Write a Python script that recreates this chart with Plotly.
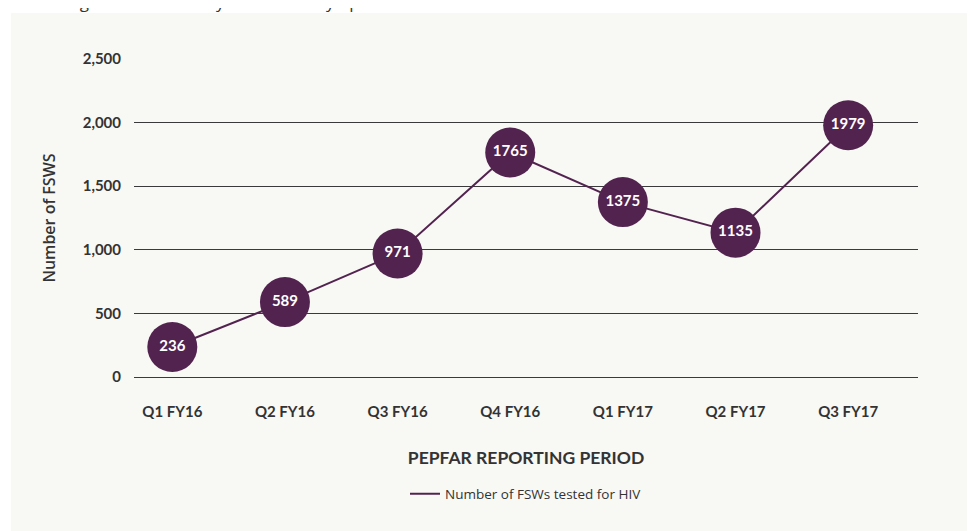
import plotly.graph_objects as go

periods = ["Q1 FY16", "Q2 FY16", "Q3 FY16", "Q4 FY16", "Q1 FY17", "Q2 FY17", "Q3 FY17"]
tested = [236, 589, 971, 1765, 1375, 1135, 1979]
y_ticks = [0, 500, 1000, 1500, 2000, 2500]
y_tick_labels = ["0", "500", "1,000", "1,500", "2,000", "2,500"]

purple = "#532350"
ink = "#333333"

fig = go.Figure()
fig.add_trace(
    go.Scatter(
        x=periods,
        y=tested,
        mode="lines",
        line=dict(color=purple, width=2),
        name="Number of FSWs tested for HIV",
        cliponaxis=False,
    )
)
fig.add_trace(
    go.Scatter(
        x=periods,
        y=tested,
        mode="markers+text",
        marker=dict(size=50, color=purple),
        text=[str(v) for v in tested],
        textposition="middle center",
        textfont=dict(color="white", size=15, family="Lato", weight="bold"),
        showlegend=False,
        cliponaxis=False,
        hoverinfo="skip",
    )
)

# light panel behind the chart
fig.add_shape(
    type="rect", xref="paper", yref="paper",
    x0=-0.157, x1=1.1, y0=-0.5, y1=1.145,
    fillcolor="#f8f8f4", line_width=0, layer="below",
)
# clipped line of body text above the panel
fig.add_annotation(
    text="including in the three they have recently opened for FSM.",
    xref="paper", yref="paper", x=-0.152, y=1, xanchor="left", yanchor="bottom",
    yshift=44, showarrow=False,
    font=dict(family="Open Sans", size=17, color=ink),
)

fig.update_layout(
    width=967,
    height=523,
    margin=dict(l=126, r=57, t=51, b=154),
    paper_bgcolor="white",
    plot_bgcolor="rgba(0,0,0,0)",
    font=dict(family="Lato", color=ink),
    showlegend=True,
    legend=dict(
        orientation="h", x=0.5, xanchor="center", y=-0.368, yanchor="middle",
        font=dict(size=13.5, family="Open Sans", color=ink), bgcolor="rgba(0,0,0,0)",
    ),
)
fig.update_xaxes(
    type="category",
    range=[-0.34, 6.62],
    showgrid=False,
    showline=False,
    zeroline=False,
    ticks="",
    ticklabelstandoff=24,
    tickfont=dict(size=15, family="Lato", weight="bold", color=ink),
    title=dict(text="PEPFAR REPORTING PERIOD", standoff=32,
               font=dict(size=17.5, family="Lato", weight="bold", color=ink)),
)
fig.update_yaxes(
    range=[0, 2500],
    tickvals=y_ticks,
    ticktext=y_tick_labels,
    showgrid=True,
    gridcolor="#3a3a3a",
    gridwidth=1.3,
    zeroline=True,
    zerolinecolor="#3a3a3a",
    zerolinewidth=1.3,
    showline=False,
    ticks="",
    ticklabelstandoff=12,
    tickfont=dict(size=15, family="Lato", weight="bold", color=ink),
    title=dict(text="Number of FSWS", standoff=23,
               font=dict(size=16, family="Open Sans", weight=600, color=ink)),
)

fig.write_html("out.html")
